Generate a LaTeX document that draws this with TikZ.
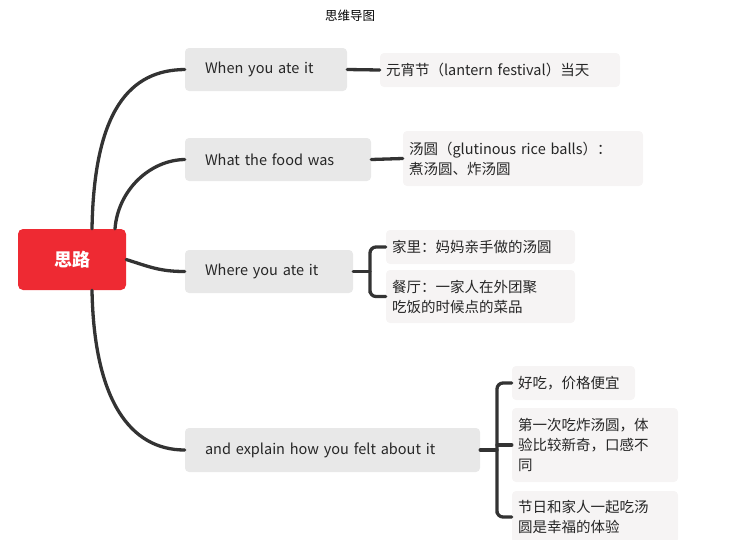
\documentclass[tikz,border=0pt]{standalone}
\usepackage{fontspec}
\setmainfont{Noto Sans CJK SC}
\definecolor{rootred}{HTML}{EE2A33}
\definecolor{brgray}{HTML}{E8E8E8}
\definecolor{leafgray}{HTML}{F6F4F4}
\definecolor{linec}{HTML}{333333}
\begin{document}
\begin{tikzpicture}[x=1pt,y=-1pt,
  br/.style={fill=brgray,rounded corners=4pt,inner xsep=20pt,inner ysep=0pt,font=\fontsize{14.5}{18}\selectfont,text=black!85,align=left},
  lf/.style={fill=leafgray,rounded corners=4pt,inner xsep=6pt,inner ysep=0pt,font=\fontsize{14.5}{20}\selectfont,text=black!85,align=left},
  con/.style={draw=linec,line width=3.3pt,line cap=round}]
\useasboundingbox (0,0) rectangle (755,539);
\node (title) at (350,16) {\fontsize{12.5}{14}\selectfont 思维导图};
\node[fill=rootred,rounded corners=5pt,minimum width=108pt,minimum height=61pt,text=white,font=\fontsize{18}{20}\selectfont\bfseries] (root) at (72,259.5) {思路};
\node[br,minimum height=43pt,text width=122pt] (b1) at (266,69.5) {When you ate it};
\node[br,minimum height=43pt,text width=146pt] (b2) at (278,159.5) {What the food was};
\node[br,minimum height=43pt,text width=128pt] (b3) at (269,271.5) {Where you ate it};
\node[br,minimum height=44pt,text width=255pt] (b4) at (332.5,450) {and explain how you felt about it};
\node[lf,minimum height=34pt,text width=228pt] (l1) at (500,70) {元宵节（lantern festival）当天};
\node[lf,minimum height=55pt,text width=228pt] (l2) at (523,158.5) {汤圆（glutinous rice balls）：\\煮汤圆、炸汤圆};
\node[lf,minimum height=34pt,text width=177pt] (l3) at (480.5,247) {家里：妈妈亲手做的汤圆};
\node[lf,minimum height=53pt,text width=177pt] (l4) at (480.5,296.5) {餐厅：一家人在外团聚\\吃饭的时候点的菜品};
\node[lf,minimum height=34pt,text width=111pt] (l5) at (573.5,383) {好吃，价格便宜};
\node[lf,minimum height=74pt,text width=154pt] (l6) at (595,445) {第一次吃炸汤圆，体\\验比较新奇，口感不\\同};
\node[lf,minimum height=52pt,text width=154pt] (l7) at (595,517) {节日和家人一起吃汤\\圆是幸福的体验};
\draw[con] ([xshift=20pt]root.north) .. controls (94,110) and (130,70) .. (b1.west);
\draw[con] ([xshift=43pt]root.north) .. controls (118,190) and (150,160) .. (b2.west);
\draw[con] (root.east) .. controls (150,267) and (160,271.5) .. (b3.west);
\draw[con] ([xshift=20pt]root.south) .. controls (94,400) and (130,450) .. (b4.west);
\draw[con] (b1.east) -- (l1.west);
\draw[con] (b2.east) -- (l2.west);
\draw[con] (b3.east) -- (370,271.5);
\draw[con,rounded corners=6pt] (l3.west) -| (370,296.5) |- (l4.west);
\draw[con] (b4.east) -- (497,450);
\draw[con,rounded corners=6pt] (l5.west) -| (497,517) |- (l7.west);
\draw[con] (497,445) -- (l6.west);
\end{tikzpicture}
\end{document}
